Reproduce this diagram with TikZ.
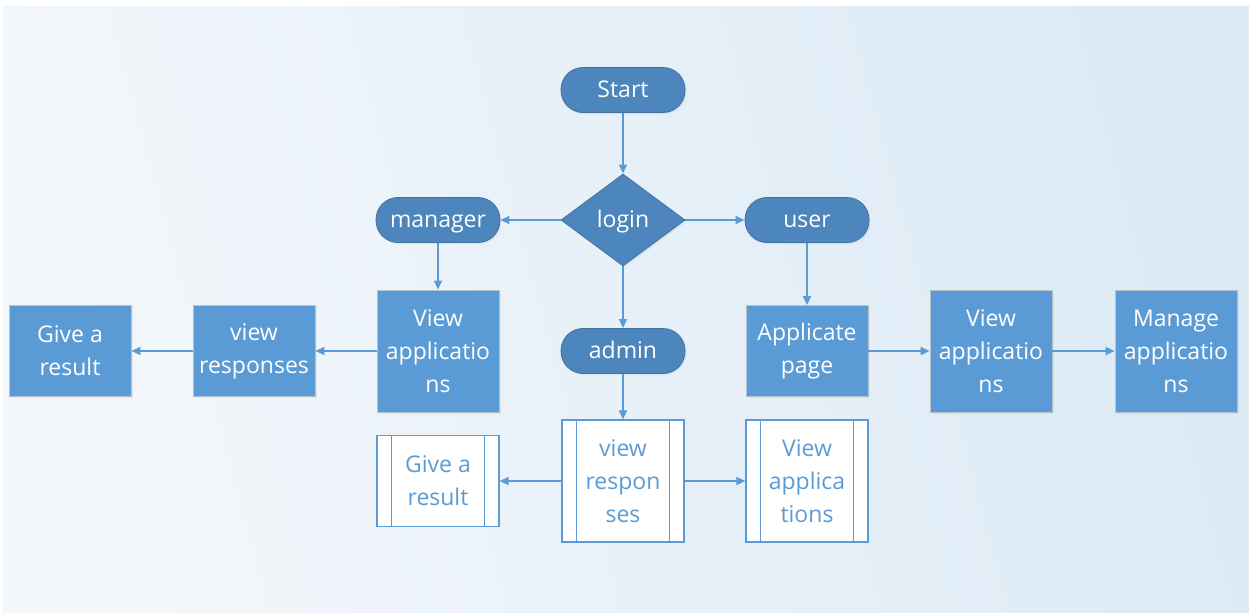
\documentclass[tikz,border=0pt]{standalone}
\usepackage{fontspec}
\setmainfont{Open Sans}
\usetikzlibrary{shapes.geometric,arrows.meta,shadows}
\definecolor{darkfill}{HTML}{4D86BC}
\definecolor{darkline}{HTML}{41729F}
\definecolor{boxfill}{HTML}{5B9BD5}
\definecolor{boxline}{HTML}{B4C3D1}
\definecolor{flow}{HTML}{5B9BD5}
\definecolor{bgA}{HTML}{F3F7FB}
\definecolor{bgB}{HTML}{DCEAF5}
\tikzset{
  lbl/.style={font=\fontsize{23}{33}\selectfont, align=center, inner sep=0pt},
  oneline/.style={text height=15pt, text depth=0pt},
  soft/.style={drop shadow={opacity=0.12, shadow xshift=1.5pt, shadow yshift=-1.5pt}},
  pill/.style={lbl, oneline, soft, rectangle, rounded corners=22pt, fill=darkfill, draw=darkline,
    line width=0.8pt, text=white, minimum width=124pt, minimum height=45pt},
  decision/.style={lbl, oneline, soft, diamond, fill=darkfill, draw=darkline, line width=0.8pt,
    text=white, minimum width=124pt, minimum height=92pt},
  procbox/.style={lbl, soft, rectangle, fill=boxfill, draw=boxline, line width=0.8pt,
    text=white, minimum width=122pt},
  subbox/.style={lbl, rectangle, fill=white, draw=flow, line width=1.2pt, text=flow,
    minimum width=122pt},
  flowarrow/.style={draw=flow, line width=1.4pt, -{Triangle[length=9pt,width=8pt]}}
}
\begin{document}
\begin{tikzpicture}[x=1pt,y=-1pt]
  % page and backdrop
  \fill[white] (0,0) rectangle (1249,613);
  \useasboundingbox (0,0) rectangle (1249,613);
  \shade[left color=bgA, right color=bgB, shading angle=105]
    (3,6) rectangle (1249,612);

  % start and branching
  \node[pill] (start) at (623,90) {Start};
  \node[decision] (login) at (623,220) {login};
  \node[pill] (manager) at (438,220) {manager};
  \node[pill] (user) at (807,220) {user};
  \node[pill] (admin) at (623,351) {admin};

  % manager path
  \node[procbox, minimum height=122pt] (mview) at (438,351) {View\\applicatio\\ns};
  \node[procbox, minimum height=91pt] (mresp) at (254,351) {view\\responses};
  \node[procbox, minimum height=91pt] (mres) at (70,351) {Give a\\result};

  % user path
  \node[procbox, minimum height=91pt] (uapp) at (807,351) {Applicate\\page};
  \node[procbox, minimum height=122pt] (uview) at (991,351) {View\\applicatio\\ns};
  \node[procbox, minimum height=122pt] (umanage) at (1176,351) {Manage\\applicatio\\ns};

  % admin path (predefined processes)
  \node[subbox, minimum height=122pt] (aresp) at (623,481) {view\\respon\\ses};
  \node[subbox, minimum height=91pt] (ares) at (438,481) {Give a\\result};
  \node[subbox, minimum height=122pt] (aview) at (807,481) {View\\applica\\tions};
  \foreach \n in {aresp,ares,aview}{
    \draw[flow, line width=1.2pt] ([xshift=15pt]\n.north west) -- ([xshift=15pt]\n.south west);
    \draw[flow, line width=1.2pt] ([xshift=-15pt]\n.north east) -- ([xshift=-15pt]\n.south east);
  }

  % connectors
  \draw[flowarrow] (start) -- (login);
  \draw[flowarrow] (login.west) -- (manager.east);
  \draw[flowarrow] (login.east) -- (user.west);
  \draw[flowarrow] (login.south) -- (admin.north);
  \draw[flowarrow] (manager) -- (mview);
  \draw[flowarrow] (mview) -- (mresp);
  \draw[flowarrow] (mresp) -- (mres);
  \draw[flowarrow] (user) -- (uapp);
  \draw[flowarrow] (uapp) -- (uview);
  \draw[flowarrow] (uview) -- (umanage);
  \draw[flowarrow] (admin) -- (aresp);
  \draw[flowarrow] (aresp) -- (ares);
  \draw[flowarrow] (aresp) -- (aview);
\end{tikzpicture}
\end{document}
